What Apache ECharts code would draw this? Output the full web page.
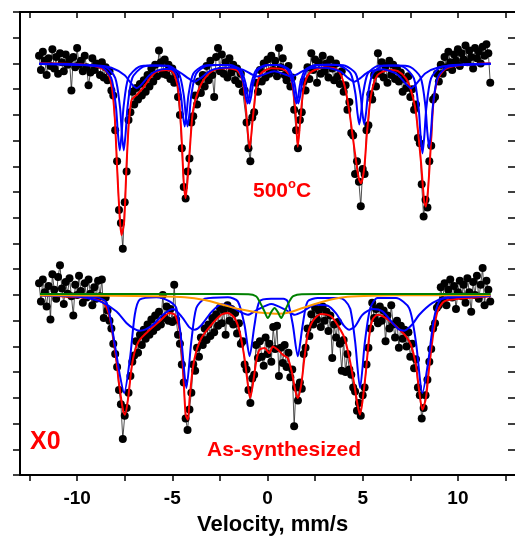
<!DOCTYPE html>
<html><head><meta charset="utf-8">
<script src="https://cdn.jsdelivr.net/npm/echarts@6/dist/echarts.min.js"></script>
<style>html,body{margin:0;padding:0;background:#fff}#c{width:515px;height:540px}</style>
</head><body><div id="c"></div>
<script>
// Velocity channels (mm/s)
const velocity = [
-12.0,-11.9,-11.8,-11.7,-11.6,-11.5,-11.4,-11.3,-11.2,-11.1,
-11.0,-10.9,-10.8,-10.7,-10.6,-10.5,-10.4,-10.3,-10.2,-10.1,
-10.0,-9.9,-9.8,-9.7,-9.6,-9.5,-9.4,-9.3,-9.2,-9.1,
-9.0,-8.9,-8.8,-8.7,-8.6,-8.5,-8.4,-8.3,-8.2,-8.1,
-8.0,-7.9,-7.8,-7.7,-7.6,-7.5,-7.4,-7.3,-7.2,-7.1,
-7.0,-6.9,-6.8,-6.7,-6.6,-6.5,-6.4,-6.3,-6.2,-6.1,
-6.0,-5.9,-5.8,-5.7,-5.6,-5.5,-5.4,-5.3,-5.2,-5.1,
-5.0,-4.9,-4.8,-4.7,-4.6,-4.5,-4.4,-4.3,-4.2,-4.1,
-4.0,-3.9,-3.8,-3.7,-3.6,-3.5,-3.4,-3.3,-3.2,-3.1,
-3.0,-2.9,-2.8,-2.7,-2.6,-2.5,-2.4,-2.3,-2.2,-2.1,
-2.0,-1.9,-1.8,-1.7,-1.6,-1.5,-1.4,-1.3,-1.2,-1.1,
-1.0,-0.9,-0.8,-0.7,-0.6,-0.5,-0.4,-0.3,-0.2,-0.1,
0.0,0.1,0.2,0.3,0.4,0.5,0.6,0.7,0.8,0.9,
1.0,1.1,1.2,1.3,1.4,1.5,1.6,1.7,1.8,1.9,
2.0,2.1,2.2,2.3,2.4,2.5,2.6,2.7,2.8,2.9,
3.0,3.1,3.2,3.3,3.4,3.5,3.6,3.7,3.8,3.9,
4.0,4.1,4.2,4.3,4.4,4.5,4.6,4.7,4.8,4.9,
5.0,5.1,5.2,5.3,5.4,5.5,5.6,5.7,5.8,5.9,
6.0,6.1,6.2,6.3,6.4,6.5,6.6,6.7,6.8,6.9,
7.0,7.1,7.2,7.3,7.4,7.5,7.6,7.7,7.8,7.9,
8.0,8.1,8.2,8.3,8.4,8.5,8.6,8.7,8.8,8.9,
9.0,9.1,9.2,9.3,9.4,9.5,9.6,9.7,9.8,9.9,
10.0,10.1,10.2,10.3,10.4,10.5,10.6,10.7,10.8,10.9,
11.0,11.1,11.2,11.3,11.4,11.5,11.6,11.7];

// Measured counts (relative, offset for stacking): 500 °C spectrum
const data500 = [
16.30,15.75,16.45,16.10,15.55,16.20,15.90,16.55,15.80,16.25,
15.60,16.40,16.05,15.70,16.35,15.95,16.15,14.95,16.25,15.85,
16.60,15.95,16.10,15.70,16.30,15.85,15.15,15.65,16.20,15.75,
16.00,15.95,15.55,16.05,15.45,15.85,15.35,15.70,14.95,14.75,
13.40,12.20,10.30,9.80,8.80,10.60,11.80,13.80,14.10,14.90,
14.40,15.05,14.60,15.20,14.75,15.35,14.90,15.55,15.10,15.80,
15.30,15.95,15.50,16.50,16.05,15.60,16.15,15.55,15.95,15.40,
15.80,15.25,15.55,14.70,14.00,12.70,11.20,10.75,11.80,12.30,
13.70,13.95,14.75,14.40,15.30,14.85,15.55,15.10,15.90,15.35,
16.10,15.55,14.70,16.25,16.60,15.70,16.35,15.60,16.05,15.45,
16.20,15.65,15.95,15.35,15.80,15.20,15.60,14.90,14.95,13.70,
12.70,12.20,13.90,14.10,15.25,14.90,15.75,15.30,16.00,15.45,
16.15,15.60,16.30,15.75,16.10,15.50,16.60,15.85,16.20,15.55,
15.35,15.90,15.10,15.45,14.20,13.40,12.70,13.80,14.10,15.30,
14.95,15.85,15.40,16.40,15.75,16.15,15.25,16.05,15.60,16.30,
15.70,16.00,15.45,16.15,15.80,15.35,16.00,15.50,15.20,15.70,
14.90,15.15,14.20,14.50,13.30,13.20,11.70,12.20,11.40,10.45,
11.90,11.70,13.40,13.60,14.80,14.60,15.55,15.10,16.40,15.60,
16.05,15.45,15.90,15.25,16.10,15.55,15.95,15.40,15.80,15.30,
15.65,14.90,15.40,15.05,15.50,14.70,15.00,14.20,14.40,13.10,
12.90,11.30,10.05,10.70,10.40,12.20,12.80,14.60,14.70,15.60,
15.30,15.95,15.60,16.25,15.85,16.45,16.05,15.75,16.35,16.10,
16.55,15.90,16.40,16.15,16.70,16.05,16.50,16.25,15.80,16.60,
16.20,16.45,16.00,16.65,16.30,16.75,16.40,15.25];

// Measured counts: as-synthesized spectrum
const dataAs = [
7.45,6.75,7.60,7.10,6.55,7.35,6.05,7.80,7.20,6.85,
7.70,8.15,7.25,6.65,7.50,7.05,7.65,6.95,6.20,7.40,
7.00,7.75,7.15,6.70,7.45,6.90,7.60,7.05,6.60,7.30,
6.85,7.55,6.95,7.60,6.10,6.90,6.40,6.00,5.70,5.10,
4.70,4.20,3.30,2.75,1.40,2.30,2.60,3.20,3.85,4.40,
4.65,5.20,4.75,5.45,5.05,5.65,5.30,5.85,5.45,6.05,
5.60,6.20,5.75,6.35,5.85,7.00,6.10,6.55,6.00,6.45,
5.95,7.40,6.05,5.45,5.10,4.30,3.60,2.20,1.75,2.55,
3.20,4.30,4.05,4.95,4.60,5.35,5.05,5.70,5.25,5.85,
5.40,6.10,5.55,6.25,5.80,6.50,5.90,6.40,5.45,6.60,
6.00,6.45,5.85,6.30,5.50,5.90,5.10,5.20,4.30,4.10,
3.30,2.80,3.75,3.90,5.05,4.55,5.20,4.60,4.25,5.35,
4.70,5.10,4.40,5.75,4.90,5.80,3.85,4.95,4.35,5.05,
4.20,4.75,3.80,4.10,1.90,3.40,2.90,3.60,3.35,4.70,
4.95,5.70,5.40,6.25,5.85,6.50,6.05,6.40,5.75,6.55,
6.00,6.35,5.60,6.20,4.55,5.85,5.35,5.95,5.10,4.05,
5.25,4.00,4.70,4.10,3.90,3.40,3.25,2.50,2.80,2.30,
3.10,3.40,4.30,4.95,5.70,6.70,6.10,6.45,5.90,6.55,
6.00,6.40,5.20,6.20,5.70,6.60,5.85,5.35,6.00,4.95,
5.80,5.30,5.65,5.00,5.55,4.60,5.10,4.15,4.50,3.40,
3.10,2.20,2.60,3.10,3.70,4.40,4.90,5.70,5.90,6.50,
6.60,7.30,6.80,7.45,6.60,7.20,7.60,6.90,7.35,6.45,
7.10,7.55,6.95,7.40,6.70,7.65,7.10,6.35,7.50,7.00,
7.75,6.85,7.40,8.05,6.60,7.55,7.20,6.75];

// Fitted curves: [velocity, value]
const fit500Total = [[-11.95,16.01],[-9.85,15.97],[-8.98,15.88],[-8.45,15.68],[-8.19,15.16],[-8.02,13.88],[-7.90,11.94],[-7.76,9.99],[-7.67,9.33],[-7.53,9.84],[-7.41,11.94],[-7.29,13.61],[-7.14,14.58],[-6.88,14.77],[-6.54,15.04],[-6.18,15.42],[-5.83,15.68],[-5.31,15.75],[-4.96,15.66],[-4.70,15.04],[-4.52,13.22],[-4.40,11.40],[-4.30,10.76],[-4.09,12.57],[-3.92,14.13],[-3.65,14.90],[-3.30,15.42],[-2.78,15.75],[-2.08,15.81],[-1.56,15.71],[-1.29,15.29],[-1.12,14.13],[-0.94,12.70],[-0.77,13.87],[-0.59,15.04],[-0.33,15.62],[0.19,15.81],[0.89,15.75],[1.24,15.42],[1.47,14.13],[1.59,12.76],[1.73,13.87],[1.90,15.04],[2.20,15.62],[2.99,15.85],[3.68,15.75],[4.04,15.16],[4.30,14.13],[4.56,12.70],[4.79,11.54],[4.91,11.34],[5.08,11.92],[5.23,13.35],[5.44,14.77],[5.78,15.55],[6.39,15.75],[6.83,15.71],[7.27,15.42],[7.53,14.97],[7.79,14.13],[8.06,12.18],[8.23,10.63],[8.32,10.43],[8.45,11.28],[8.58,12.83],[8.72,14.51],[8.93,15.36],[9.28,15.75],[9.89,15.91],[10.76,15.97],[11.72,16.01]];

const fit500SextetA = [[-12,15.99],[-8.76,15.87],[-8.21,15.44],[-7.96,14.31],[-7.86,13.30],[-7.76,12.62],[-7.66,13.30],[-7.56,14.31],[-7.31,15.44],[-6.76,15.87],[-6.05,15.92],[-5.35,15.91],[-4.80,15.60],[-4.55,14.78],[-4.45,14.04],[-4.35,13.55],[-4.25,14.04],[-4.15,14.78],[-3.90,15.60],[-3.35,15.91],[-2.7,15.94],[-2.05,15.94],[-1.50,15.74],[-1.25,15.22],[-1.15,14.75],[-1.05,14.44],[-0.95,14.75],[-0.85,15.22],[-0.60,15.74],[-0.05,15.94],[0.62,15.94],[1.17,15.74],[1.42,15.22],[1.52,14.75],[1.62,14.44],[1.72,14.75],[1.82,15.22],[2.07,15.74],[2.62,15.94],[3.35,15.95],[4.08,15.91],[4.63,15.61],[4.88,14.82],[4.98,14.10],[5.08,13.63],[5.18,14.10],[5.28,14.82],[5.53,15.61],[6.08,15.91],[6.785,15.92],[7.49,15.87],[8.04,15.46],[8.29,14.37],[8.39,13.38],[8.49,12.73],[8.59,13.38],[8.69,14.37],[8.94,15.46],[9.49,15.87],[11.72,15.99]];

const fit500SextetB = [[-12,15.99],[-8.55,15.87],[-8.00,15.44],[-7.75,14.31],[-7.65,13.30],[-7.55,12.62],[-7.45,13.30],[-7.35,14.31],[-7.10,15.44],[-6.55,15.87],[-5.875,15.92],[-5.20,15.91],[-4.65,15.60],[-4.40,14.78],[-4.30,14.04],[-4.20,13.55],[-4.10,14.04],[-4.00,14.78],[-3.75,15.60],[-3.20,15.91],[-2.575,15.94],[-1.95,15.94],[-1.40,15.74],[-1.15,15.22],[-1.05,14.75],[-0.95,14.44],[-0.85,14.75],[-0.75,15.22],[-0.50,15.74],[0.05,15.94],[0.52,15.94],[1.07,15.74],[1.32,15.22],[1.42,14.75],[1.52,14.44],[1.62,14.75],[1.72,15.22],[1.97,15.74],[2.52,15.94],[3.17,15.95],[3.82,15.91],[4.37,15.61],[4.62,14.82],[4.72,14.10],[4.82,13.63],[4.92,14.10],[5.02,14.82],[5.27,15.61],[5.82,15.91],[6.48,15.92],[7.14,15.87],[7.69,15.42],[7.94,14.25],[8.04,13.20],[8.14,12.50],[8.24,13.20],[8.34,14.25],[8.59,15.42],[9.14,15.87],[11.72,15.99]];

const fit500Broad = [[-12,15.98],[-9,15.92],[-8.2,15.83],[-7.5,15.54],[-7.17,15.23],[-6.87,15.04],[-6.57,15.22],[-6.2,15.54],[-5.8,15.72],[-5.35,15.78],[-4.8,15.74],[-4.13,15.41],[-3.83,15.29],[-3.53,15.42],[-3.0,15.72],[-2.5,15.82],[-1.9,15.84],[-1.3,15.76],[-0.84,15.58],[-0.54,15.49],[-0.24,15.56],[0.36,15.70],[0.96,15.56],[1.26,15.49],[1.56,15.58],[2.0,15.76],[2.6,15.84],[3.2,15.82],[3.83,15.68],[4.26,15.42],[4.56,15.29],[4.86,15.42],[5.3,15.67],[6.05,15.77],[6.8,15.59],[7.25,15.22],[7.55,15.04],[7.85,15.24],[8.3,15.62],[9.0,15.85],[10,15.94],[11.72,15.98]];

const fitAsTotal = [[-11.95,6.99],[-9.85,6.91],[-8.98,6.82],[-8.54,6.62],[-8.28,6.10],[-8.02,4.94],[-7.79,3.51],[-7.58,2.48],[-7.49,2.34],[-7.32,2.99],[-7.14,4.16],[-6.97,4.81],[-6.71,5.26],[-6.18,5.65],[-5.66,5.98],[-5.14,6.30],[-4.87,6.23],[-4.61,5.59],[-4.44,4.16],[-4.30,2.34],[-4.18,2.15],[-4.09,2.99],[-3.92,4.16],[-3.74,4.81],[-3.47,5.33],[-2.95,5.84],[-2.43,6.23],[-2.08,6.30],[-1.73,6.10],[-1.47,5.59],[-1.21,4.55],[-1.03,3.51],[-0.91,2.99],[-0.77,3.51],[-0.59,4.42],[-0.42,4.87],[-0.16,4.94],[0.10,4.74],[0.28,5.00],[0.54,4.87],[0.80,4.68],[1.06,4.55],[1.27,4.03],[1.47,3.25],[1.59,2.99],[1.77,3.51],[1.94,4.55],[2.11,5.45],[2.37,5.98],[2.81,6.26],[3.34,6.17],[3.77,5.72],[4.04,5.33],[4.30,4.55],[4.56,3.51],[4.73,2.73],[4.86,2.34],[4.99,2.87],[5.17,4.03],[5.35,5.45],[5.52,6.04],[5.78,6.23],[6.22,6.10],[6.75,5.78],[7.27,5.39],[7.53,5.07],[7.79,4.29],[7.97,3.25],[8.14,2.54],[8.32,2.99],[8.49,4.16],[8.70,5.45],[8.93,6.36],[9.28,6.75],[10.06,6.85],[11.72,6.95]];

const fitAsSextet = [[-11.95,6.99],[-8.98,6.91],[-8.45,6.70],[-8.02,5.07],[-7.76,3.90],[-7.53,3.19],[-7.22,4.55],[-6.97,6.23],[-6.71,6.82],[-5.83,6.91],[-5.14,6.75],[-4.79,6.49],[-4.52,5.20],[-4.26,3.38],[-4.00,5.20],[-3.74,6.49],[-3.30,6.85],[-2.08,6.91],[-1.56,6.75],[-1.21,5.84],[-0.94,4.62],[-0.68,5.84],[-0.42,6.75],[0.19,6.85],[0.84,6.85],[1.06,6.75],[1.33,5.84],[1.59,4.62],[1.85,5.84],[2.11,6.75],[2.64,6.88],[3.77,6.88],[4.07,6.78],[4.35,6.45],[4.60,5.20],[4.86,3.38],[5.12,5.20],[5.40,6.49],[5.78,6.88],[6.75,6.88],[7.44,6.49],[7.79,5.20],[8.14,3.19],[8.45,4.45],[8.75,6.10],[9.10,6.82],[9.89,6.91],[11.72,6.96]];

const fitAsBroad = [[-11.95,6.99],[-10.5,6.96],[-9.5,6.89],[-8.7,6.72],[-7.93,6.36],[-7.41,5.91],[-7.0,5.68],[-6.71,5.61],[-6.4,5.66],[-6.0,5.85],[-5.49,6.23],[-4.96,6.45],[-4.5,6.15],[-4.1,5.74],[-3.83,5.65],[-3.5,5.80],[-2.95,6.33],[-2.43,6.64],[-1.9,6.55],[-1.45,6.35],[-1.03,6.23],[-0.6,6.40],[0.2,6.65],[1.0,6.40],[1.42,6.23],[1.85,6.35],[2.5,6.62],[3.16,6.58],[3.6,6.28],[4.0,5.82],[4.30,5.65],[4.6,5.78],[4.99,6.23],[5.52,6.45],[6.04,6.36],[6.57,5.91],[6.9,5.66],[7.18,5.61],[7.6,5.85],[7.97,6.23],[8.67,6.69],[9.37,6.91],[10.5,6.97],[11.72,6.98]];

const fitAsDoublet = [[-11.95,7.04],[-6,7.04],[-2,7.035],[-1.0,7.03],[-0.6,6.95],[-0.42,6.75],[-0.16,6.36],[0.02,6.10],[0.2,6.34],[0.37,6.49],[0.54,6.34],[0.72,6.10],[0.9,6.36],[1.15,6.75],[1.35,6.95],[1.8,7.03],[3,7.035],[7,7.04],[11.72,7.04]];

const fitAsParamag = [[-11.95,6.99],[-8,6.97],[-6,6.95],[-4.35,6.91],[-3.3,6.80],[-2.25,6.60],[-1.5,6.45],[-0.8,6.36],[-0.16,6.30],[0.54,6.27],[1.2,6.33],[1.8,6.48],[2.5,6.65],[3.34,6.82],[4.2,6.93],[5.5,6.97],[8,6.99],[11.72,6.99]];

const xTickValues = [-12.5,-10,-7.5,-5,-2.5,0,2.5,5,7.5,10,12.5];
const xLabelValues = [-10,-5,0,5,10];
const xAxisTitle = 'Velocity, mm/s';
const labelTop = '500';
const labelTopUnit = 'C';
const labelBottom = 'As-synthesized';
const labelSample = 'X0';

const FONT = '"Liberation Sans", Arial, Helvetica, sans-serif';
const chart = echarts.init(document.getElementById('c'), null, {renderer: 'canvas'});

function fitLine(d, color, z) {
  return {type: 'line', data: d, symbol: 'none', smooth: 0.25, z: z,
    lineStyle: {color: color, width: 2}, silent: true};
}
function dataLine(d) {
  return {type: 'line', data: d, symbol: 'circle', symbolSize: 8, z: 2,
    itemStyle: {color: '#000'}, lineStyle: {color: '#222', width: 0.8}, silent: true};
}
const axisLineStyle = {color: '#000', width: 2};
const tickStyle = {color: '#000', width: 1.5};

chart.setOption({
  animation: false,
  grid: {left: 20, right: -1, top: 12, bottom: 65, containLabel: false},
  xAxis: [
    {type: 'value', min: -13, max: 13, position: 'bottom',
     axisLine: {show: true, onZero: false, lineStyle: axisLineStyle},
     axisTick: {show: true, customValues: xTickValues, length: 6, lineStyle: tickStyle},
     axisLabel: {show: true, customValues: xLabelValues, color: '#000', fontSize: 19, fontWeight: 'bold', fontFamily: FONT, margin: 14},
     splitLine: {show: false}},
    {type: 'value', min: -13, max: 13, position: 'top',
     axisLine: {show: true, onZero: false, lineStyle: axisLineStyle},
     axisTick: {show: true, customValues: xTickValues, inside: true, length: 6, lineStyle: tickStyle},
     axisLabel: {show: false}, splitLine: {show: false}}
  ],
  yAxis: [
    {type: 'value', min: 0, max: 18, interval: 1, position: 'left',
     axisLine: {show: true, onZero: false, lineStyle: axisLineStyle},
     axisTick: {show: true, length: 7, lineStyle: tickStyle},
     axisLabel: {show: false}, splitLine: {show: false}},
    {type: 'value', min: 0, max: 18, interval: 1, position: 'right',
     axisLine: {show: false, onZero: false},
     axisTick: {show: true, inside: true, length: 7, lineStyle: tickStyle},
     axisLabel: {show: false}, splitLine: {show: false}}
  ],
  series: [
    dataLine(velocity.map((v, i) => [v, data500[i]])),
    dataLine(velocity.map((v, i) => [v, dataAs[i]])),
    fitLine(fit500Total, '#ff0000', 3),
    fitLine(fitAsTotal, '#ff0000', 3),
    fitLine(fit500Broad, '#0000ff', 4),
    fitLine(fit500SextetA, '#0000ff', 4),
    fitLine(fit500SextetB, '#0000ff', 4),
    fitLine(fitAsBroad, '#0000ff', 4),
    fitLine(fitAsSextet, '#0000ff', 4),
    fitLine(fitAsParamag, '#ff9900', 5),
    fitLine(fitAsDoublet, '#008000', 6)
  ],
  graphic: [
    {type: 'text', x: 253, y: 190, z: 10, style: {
      text: '{n|' + labelTop + '}{s|o}{n|' + labelTopUnit + '}',
      rich: {
        n: {fontSize: 21, fontWeight: 'bold', fontFamily: FONT, fill: '#ff0000', lineHeight: 24, verticalAlign: 'bottom'},
        s: {fontSize: 13, fontWeight: 'bold', fontFamily: FONT, fill: '#ff0000', lineHeight: 24, verticalAlign: 'top'}
      },
      align: 'left', verticalAlign: 'middle'}},
    {type: 'text', x: 207, y: 450, z: 10, style: {text: labelBottom, fill: '#ff0000',
      font: 'bold 21px ' + FONT, align: 'left', verticalAlign: 'middle'}},
    {type: 'text', x: 30, y: 442, z: 10, style: {text: labelSample, fill: '#ff0000',
      font: 'bold 25px ' + FONT, align: 'left', verticalAlign: 'middle'}},
    {type: 'text', x: 197, y: 525, z: 10, style: {text: xAxisTitle, fill: '#000',
      font: 'bold 22px ' + FONT, align: 'left', verticalAlign: 'middle'}}
  ]
});
</script></body></html>
